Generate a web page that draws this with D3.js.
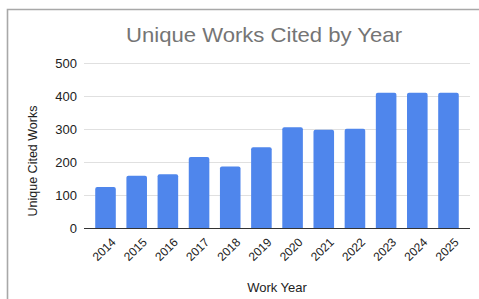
<!DOCTYPE html>
<html><head><meta charset="utf-8">
<script src="https://cdn.jsdelivr.net/npm/d3@7"></script>
<style>html,body{margin:0;padding:0;background:#fff;}svg{display:block;}</style>
</head><body>
<script>
const years = ["2014","2015","2016","2017","2018","2019","2020","2021","2022","2023","2024","2025"];
const uniqueWorks = [124,158,163,215,186,245,305,298,301,410,410,410];
const yTicks = [0,100,200,300,400,500];
const titleText = "Unique Works Cited by Year";
const xTitle = "Work Year";
const yTitle = "Unique Cited Works";

(function () {
const W = 479, H = 299;
const svg = d3.select("body").append("svg").attr("width", W).attr("height", H);
const font = "Arial, 'Liberation Sans', sans-serif";

// frame
svg.append("path").attr("d", `M7.5,${H} L7.5,9.5 L${W},9.5`).attr("fill","none")
  .attr("stroke","#a8a8a8").attr("stroke-width",1.6);

const pl = 84, pr = 470, pt = 63, pb = 228;
const x = d3.scaleBand().domain(years).range([pl, pr]).paddingInner(0.34).paddingOuter(0.36);
const y = d3.scaleLinear().domain([0, 500]).range([pb, pt]);

// gridlines
svg.append("g").selectAll("line").data(yTicks.filter(d => d > 0)).join("line")
  .attr("x1", pl).attr("x2", pr)
  .attr("y1", d => Math.round(y(d)) + 0.5).attr("y2", d => Math.round(y(d)) + 0.5)
  .attr("stroke", "#e0e0e0").attr("stroke-width", 1);

// y labels
svg.append("g").selectAll("text").data(yTicks).join("text")
  .attr("x", 77).attr("y", d => y(d)).attr("dy", "0.36em")
  .attr("text-anchor", "end").attr("font-family", font).attr("font-size", 13)
  .attr("fill", "#222").text(d => d);

// bars
svg.append("g").selectAll("path").data(years).join("path")
  .attr("d", (d, i) => {
    const x0 = x(d), w = x.bandwidth(), y0 = y(uniqueWorks[i]), r = 2;
    return `M${x0},${pb} L${x0},${y0 + r} Q${x0},${y0} ${x0 + r},${y0} L${x0 + w - r},${y0} Q${x0 + w},${y0} ${x0 + w},${y0 + r} L${x0 + w},${pb} Z`;
  })
  .attr("fill", "#4f86ec");

// baseline
svg.append("line").attr("x1", pl).attr("x2", pr).attr("y1", pb + 0.5).attr("y2", pb + 0.5)
  .attr("stroke", "#333").attr("stroke-width", 1);

// x labels
svg.append("g").selectAll("text").data(years).join("text")
  .attr("transform", d => `translate(${x(d) + x.bandwidth() / 2 + 5},${pb + 9}) rotate(-45)`)
  .attr("text-anchor", "end").attr("dy", "0.7em")
  .attr("font-family", font).attr("font-size", 12).attr("fill", "#222").text(d => d);

// titles
svg.append("text").attr("x", 264).attr("y", 42).attr("text-anchor", "middle")
  .attr("font-family", font).attr("font-size", 21).attr("fill", "#757575")
  .attr("textLength", 276).attr("lengthAdjust", "spacingAndGlyphs").text(titleText);
svg.append("text").attr("x", 277).attr("y", 292).attr("text-anchor", "middle")
  .attr("font-family", font).attr("font-size", 13).attr("fill", "#222").text(xTitle);
svg.append("text").attr("transform", "translate(37,161) rotate(-90)").attr("text-anchor", "middle")
  .attr("font-family", font).attr("font-size", 12.5).attr("fill", "#222").text(yTitle);
})();
</script>
</body></html>
